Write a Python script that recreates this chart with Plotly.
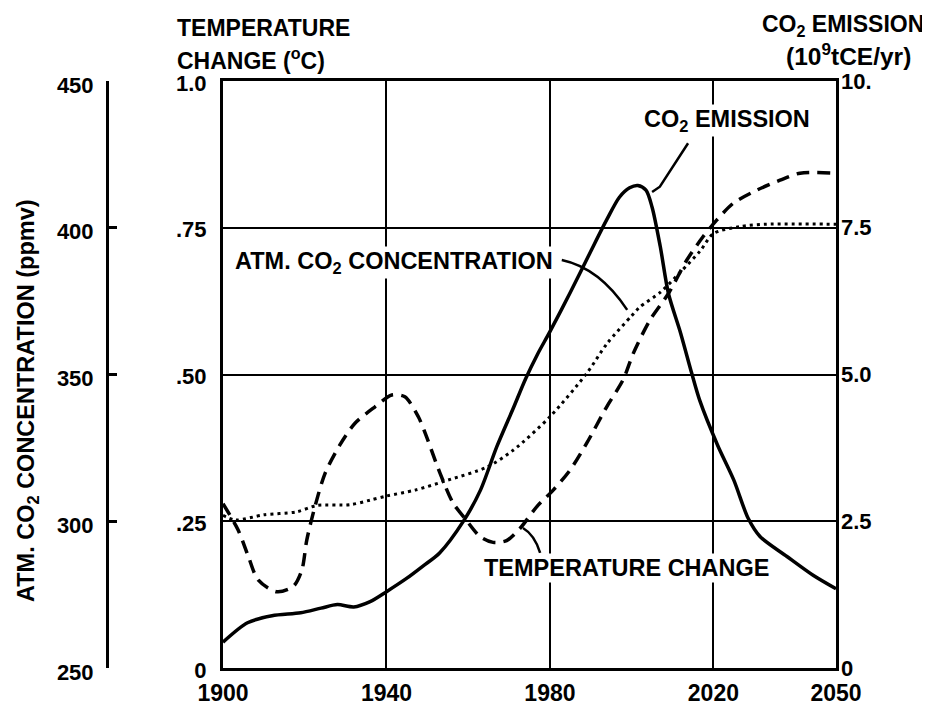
import plotly.graph_objects as go

# ---------------- data ----------------
emis_year = [1900, 1906, 1912, 1919, 1924, 1928, 1932, 1936, 1940, 1945, 1949, 1953,
             1959, 1963, 1967, 1971, 1974, 1977, 1980, 1985, 1990, 1994, 1997, 1999.5, 2001.5,
             2003.5, 2005, 2007, 2009, 2012, 2014.7, 2016.7, 2021, 2025, 2028.5,
             2031.4, 2038, 2044.4, 2050]
emis_val = [0.44, 0.77, 0.89, 0.94, 1.02, 1.08, 1.04, 1.13, 1.30, 1.53, 1.74, 1.96,
            2.52, 3.03, 3.77, 4.42, 4.92, 5.35, 5.73, 6.40, 7.10, 7.65, 8.02, 8.18, 8.22,
            8.14, 7.85, 7.18, 6.38, 5.70, 5.02, 4.55, 3.80, 3.20, 2.55,
            2.24, 1.90, 1.58, 1.35]

co2_year = [1900, 1903, 1910, 1918, 1923, 1931, 1936, 1940, 1947, 1955, 1964.5, 1971,
            1980, 1989, 1994, 2000, 2002, 2007, 2012, 2016.7, 2020, 2026.5, 2033, 2050]
co2_ppm = [302, 300.4, 302.2, 303.2, 305.4, 305.6, 307.2, 308.6, 310.6, 314, 318.4, 324.2,
           335.6, 350.4, 360.6, 370, 373, 378, 385, 392, 398, 400.4, 401.2, 401.2]

temp_year = [1900, 1903.7, 1906.2, 1908.6, 1913.1, 1917.2, 1919.3, 1920.5, 1922.5, 1925,
             1928.6, 1932.3, 1937.2, 1941.3, 1944.5, 1947.8, 1949.8, 1953.1, 1956.3,
             1959.2, 1962.9, 1966.1, 1969.4, 1972.7, 1976.8, 1980.8, 1984.9, 1989,
             1993.9, 1997.9, 2000.4, 2004.5, 2009, 2013.5, 2017.5, 2020.8, 2024.9,
             2030.6, 2036.3, 2041.2, 2050]
temp_val = [0.28, 0.235, 0.19, 0.15, 0.13, 0.139, 0.167, 0.218, 0.275, 0.332,
            0.38, 0.417, 0.445, 0.465, 0.462, 0.428, 0.394, 0.332, 0.281,
            0.255, 0.224, 0.214, 0.217, 0.238, 0.275, 0.303, 0.337, 0.383,
            0.445, 0.491, 0.536, 0.593, 0.638, 0.695, 0.735, 0.763, 0.792,
            0.814, 0.831, 0.843, 0.843]

x_ticks = [1900, 1940, 1980, 2020, 2050]
temp_ticks = [0, 0.25, 0.5, 0.75, 1.0]
temp_labels = ["0", ".25", ".50", ".75", "1.0"]
emis_ticks = [0, 2.5, 5, 7.5, 10]
emis_labels = ["0", "2.5", "5.0", "7.5", "10."]
co2_ticks = [250, 300, 350, 400, 450]

# ---------------- style ----------------
FONT = "Liberation Sans, Arial, sans-serif"
W, H = 930, 707
OFF = 8  # page body margin offset
L, R, T, B = 223, 836, 81, 668  # plot frame in page pixels


def px(v):
    return (v - OFF) / W


def py(v):
    return 1 - (v - OFF) / H


def vy(v):
    """temperature-axis value at page pixel row v"""
    return (B - v) / (B - T)


fig = go.Figure()
fig.add_trace(go.Scatter(x=emis_year, y=emis_val, yaxis="y2", mode="lines",
                         line=dict(color="black", width=3.5, shape="spline", smoothing=0.8),
                         showlegend=False, hoverinfo="skip"))
fig.add_trace(go.Scatter(x=co2_year, y=co2_ppm, yaxis="y3", mode="lines",
                         line=dict(color="black", width=3, dash="3px,4px", shape="spline", smoothing=0.8),
                         showlegend=False, hoverinfo="skip"))
fig.add_trace(go.Scatter(x=temp_year, y=temp_val, yaxis="y", mode="lines",
                         line=dict(color="black", width=3.5, dash="13px,8px", shape="spline", smoothing=0.8),
                         showlegend=False, hoverinfo="skip"))

tickfont = dict(family=FONT, size=22, color="black", weight="bold")
fig.update_layout(
    template="none",
    width=W, height=H,
    margin=dict(l=0, r=0, t=0, b=0, pad=0),
    paper_bgcolor="white", plot_bgcolor="white",
    font=dict(family=FONT, color="black"),
    xaxis=dict(domain=[px(L), px(R)], range=[1900, 2050], tickvals=x_ticks, automargin=False,
               ticktext=[str(v) for v in x_ticks],
               tickfont=dict(family=FONT, size=23, color="black", weight="bold"),
               showgrid=True, gridcolor="black", gridwidth=2, showline=True, linecolor="black",
               linewidth=3, mirror=True, ticks="", zeroline=False, ticklabelstandoff=2),
    yaxis=dict(domain=[py(B), py(T)], range=[0, 1], tickvals=temp_ticks, ticktext=temp_labels,
               automargin=False, ticklabelshift=2,
               tickfont=tickfont, showgrid=True, gridcolor="black", gridwidth=2, showline=True,
               linecolor="black", linewidth=3, mirror=True, ticks="", zeroline=False,
               ticklabelstandoff=9),
    yaxis2=dict(overlaying="y", side="right", anchor="x", range=[0, 10], tickvals=emis_ticks,
                automargin=False, ticklabelshift=0,
                ticktext=emis_labels, tickfont=tickfont, showgrid=False, zeroline=False,
                ticks="", showline=False, ticklabelstandoff=4),
    yaxis3=dict(overlaying="y", anchor="free", position=px(107), side="left", range=[250, 450],
                automargin=False, ticklabelshift=4,
                tickvals=co2_ticks, ticktext=[str(v) for v in co2_ticks], tickfont=tickfont,
                showgrid=False, zeroline=False, showline=True, linecolor="black", linewidth=3,
                ticks="inside", ticklen=8, tickwidth=3, tickcolor="black", ticklabelstandoff=8),
)

afont = dict(family=FONT, size=23.5, color="black", weight="bold")
tfont = dict(family=FONT, size=23, color="black", weight="bold")
annots = [
    dict(x=1902.4, y=vy(262), xref="x", yref="y", text="ATM. CO<sub>2</sub> CONCENTRATION",
         xanchor="left", yanchor="middle", showarrow=False, bgcolor="white", font=afont),
    dict(x=2002.5, y=vy(120), xref="x", yref="y", text="CO<sub>2</sub> EMISSION",
         xanchor="left", yanchor="middle", showarrow=False, bgcolor="white", font=afont),
    dict(x=1963.4, y=vy(568), xref="x", yref="y", text="TEMPERATURE CHANGE",
         xanchor="left", yanchor="middle", showarrow=False, bgcolor="white", font=afont),
    dict(x=px(175), y=py(28), xref="paper", yref="paper", text="TEMPERATURE",
         xanchor="left", yanchor="middle", showarrow=False, font=tfont),
    dict(x=px(175), y=py(59), xref="paper", yref="paper", text="CHANGE (<sup>o</sup>C)",
         xanchor="left", yanchor="middle", showarrow=False, font=tfont),
    dict(x=px(843), y=py(25), xref="paper", yref="paper", text="CO<sub>2</sub> EMISSION",
         xanchor="center", yanchor="middle", showarrow=False, font=tfont),
    dict(x=px(848), y=py(55), xref="paper", yref="paper", text="(10<sup>9</sup>tCE/yr)",
         xanchor="center", yanchor="middle", showarrow=False,
         font=dict(family=FONT, size=24.5, color="black", weight="bold")),
    dict(x=px(27), y=py(401), xref="paper", yref="paper", text="ATM. CO<sub>2</sub> CONCENTRATION (ppmv)",
         textangle=-90, xanchor="center", yanchor="middle", showarrow=False, font=afont),
]
fig.update_layout(annotations=annots)

leader = dict(color="black", width=2.5)
fig.update_layout(shapes=[
    dict(type="path", xref="x", yref="y", path="M 1982.9,0.695 Q 1992.2,0.681 1998.9,0.610", line=leader),
    dict(type="path", xref="x", yref="y", path="M 2013.8,0.894 L 2006.9,0.82 L 2005.0,0.811", line=leader),
    dict(type="path", xref="x", yref="y", path="M 1977.6,0.196 Q 1976.3,0.2266 1973.4,0.2385", line=leader),
])

fig.write_html("out.html")
